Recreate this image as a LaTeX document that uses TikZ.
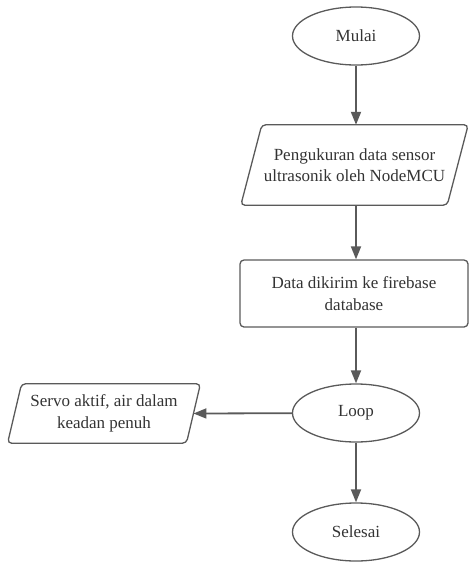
\documentclass[tikz,border=0pt]{standalone}
\usepackage{fontspec}
\setmainfont{Liberation Serif}
\usetikzlibrary{arrows.meta,shapes.geometric}
\definecolor{garis}{HTML}{5A5A5A}
\definecolor{teks}{HTML}{333333}
\begin{document}
\begin{tikzpicture}[x=1pt,y=-1pt,
    font=\fontsize{17}{21.5}\selectfont, text=teks,
    terminal/.style={ellipse,draw=garis,line width=1.3pt,minimum width=127pt,minimum height=58pt,inner sep=0pt},
    proses/.style={rectangle,draw=garis,line width=1.3pt,rounded corners=4pt,align=center},
    io/.style={rectangle,align=center,inner sep=0pt},
    alur/.style={draw=garis,line width=1.8pt,-{Triangle[length=13pt,width=10pt]}}]
            \useasboundingbox (0,0) rectangle (469,565);
            \def\s{10.5}
            \def\t{7}
            \node[terminal] (mulai) at (356,36) {Mulai};
            \node[io,minimum width=206pt,minimum height=80pt] (ukur) at (354.5,165) {Pengukuran data sensor\\ultrasonik oleh NodeMCU};
            \draw[garis,line width=1.3pt,rounded corners=4pt] ([xshift=\s]ukur.north west) -- ([xshift=\s]ukur.north east) -- ([xshift=-\s]ukur.south east) -- ([xshift=-\s]ukur.south west) -- cycle;
            \node[proses,minimum width=228pt,minimum height=67pt] (kirim) at (354,293.5) {Data dikirim ke firebase\\database};
            \node[terminal] (loop) at (356,413) {Loop};
            \node[io,minimum width=178.5pt,minimum height=59pt] (servo) at (104,413.5) {Servo aktif, air dalam\\keadan penuh};
            \draw[garis,line width=1.3pt,rounded corners=4pt] ([xshift=\t]servo.north west) -- ([xshift=\t]servo.north east) -- ([xshift=-\t]servo.south east) -- ([xshift=-\t]servo.south west) -- cycle;
            \node[terminal] (selesai) at (356,532) {Selesai};
            \draw[alur] (mulai) -- (ukur.north -| mulai);
            \draw[alur] (ukur.south -| mulai) -- (kirim.north -| mulai);
            \draw[alur] (kirim.south -| mulai) -- (loop);
            \draw[alur] (loop) -- (servo.east);
            \draw[alur] (loop) -- (selesai);
          \end{tikzpicture}
\end{document}
